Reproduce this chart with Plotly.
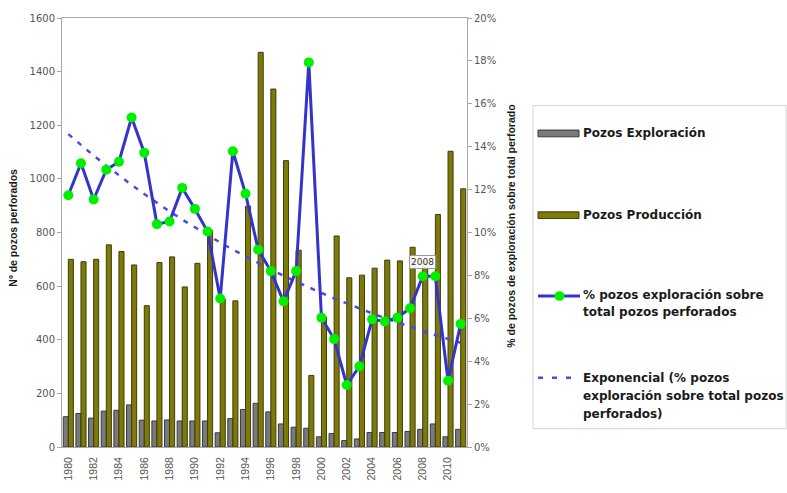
import numpy as np
import plotly.graph_objects as go

# --- data -------------------------------------------------------------
years = list(range(1980, 2012))

pozos_exploracion = [113, 125, 108, 134, 137, 157, 100, 97, 101, 97, 97, 97, 53, 106, 140, 163,
                     131, 86, 74, 70, 38, 50, 24, 30, 54, 54, 54, 58, 66, 86, 38, 66]

pozos_produccion = [700, 691, 700, 754, 729, 679, 527, 688, 709, 597, 685, 808, 552, 545, 898, 1472,
                    1335, 1068, 734, 267, 485, 787, 631, 641, 667, 697, 694, 745, 690, 867, 1103, 963]

pct_exploracion = [11.74, 13.23, 11.54, 12.93, 13.30, 15.36, 13.72, 10.39, 10.51, 12.08, 11.10, 10.05,
                   6.92, 13.79, 11.81, 9.20, 8.20, 6.79, 8.20, 17.93, 6.03, 5.03, 2.89, 3.76,
                   5.95, 5.85, 6.03, 6.47, 7.96, 7.96, 3.09, 5.74]

year_ticks = list(range(1980, 2011, 2))
left_ticks = list(range(0, 1601, 200))
right_ticks = list(range(0, 21, 2))
labelled_year = 2008

# exponential trend line (least squares on log values)
t = np.arange(len(years))
b, a = np.polyfit(t, np.log(pct_exploracion), 1)
trend = np.exp(a + b * t)

# --- styles -----------------------------------------------------------
GRAY_FILL, GRAY_EDGE = "#7a7a7a", "#3a3a3a"
OLIVE_FILL, OLIVE_EDGE = "#7d7a05", "#3e3c12"
BLUE = "#3434cc"
LIME = "#00f000"
AXIS = "#a8a8a8"
TICK_TXT = "#555555"

fig = go.Figure()
fig.add_trace(go.Bar(x=years, y=pozos_exploracion, name="Pozos Exploración",
                     marker=dict(color=GRAY_FILL, line=dict(color=GRAY_EDGE, width=1))))
fig.add_trace(go.Bar(x=years, y=pozos_produccion, name="Pozos Producción",
                     marker=dict(color=OLIVE_FILL, line=dict(color=OLIVE_EDGE, width=1))))
fig.add_trace(go.Scatter(x=years, y=trend, yaxis="y2", mode="lines",
                         name="Exponencial (% pozos exploración sobre total pozos perforados)",
                         line=dict(color="#4a4ae0", width=2.5, dash="5px,7px")))
fig.add_trace(go.Scatter(x=years, y=pct_exploracion, yaxis="y2", mode="lines+markers",
                         name="% pozos exploración sobre total pozos perforados",
                         line=dict(color=BLUE, width=3),
                         marker=dict(color=LIME, size=10)))

# --- plot frame ---------------------------------------------------------
PL, PR, PT, PB = 62, 467, 13, 459
W, H = 787, 493


def fx(px):
    return (px - PL) / (PR - PL)


def fy(py):
    return (PB - py) / (PB - PT)


fig.update_layout(
    width=W, height=H,
    margin=dict(l=PL, r=W - PR, t=PT, b=H - PB, pad=0),
    paper_bgcolor="white", plot_bgcolor="white",
    barmode="group", bargap=0.2, bargroupgap=0,
    showlegend=False,
    font=dict(family="Liberation Sans, Arial", color="#222"),
    xaxis=dict(range=[1979.5, 2011.5], tickvals=year_ticks, ticktext=[str(y) for y in year_ticks],
               tickangle=-90, ticks="", ticklabelstandoff=5,
               tickfont=dict(family="Liberation Sans, Arial", size=10.5, color=TICK_TXT),
               showline=True, linecolor=AXIS, linewidth=1, mirror=True,
               showgrid=False, zeroline=False),
    yaxis=dict(range=[0, 1600], tickvals=left_ticks, ticks="outside", ticklen=4, tickcolor=AXIS,
               tickfont=dict(family="DejaVu Sans", size=10, color=TICK_TXT),
               showline=True, linecolor=AXIS, linewidth=1,
               showgrid=False, zeroline=False),
    yaxis2=dict(range=[0, 20], tickvals=right_ticks, ticktext=[f"{v}%" for v in right_ticks],
                overlaying="y", side="right",
                ticks="outside", ticklen=4, tickcolor=AXIS,
                tickfont=dict(family="DejaVu Sans", size=10, color=TICK_TXT),
                showline=True, linecolor=AXIS, linewidth=1,
                showgrid=False, zeroline=False),
)

# axis titles
TITLE_FONT = dict(family="Liberation Sans, Arial", size=10.5, color="#1a1a1a")
fig.add_annotation(x=fx(13), y=fy(231), xref="paper", yref="paper", showarrow=False,
                   xanchor="center", yanchor="middle",
                   text="<b>Nº de pozos perforados</b>", textangle=-90, font=TITLE_FONT)
fig.add_annotation(x=fx(511), y=fy(230), xref="paper", yref="paper", showarrow=False,
                   xanchor="center", yanchor="middle",
                   text="<b>% de pozos de exploración sobre total perforado</b>", textangle=-90,
                   font=TITLE_FONT)

# data label on one point of the percentage series
idx = years.index(labelled_year)
fig.add_annotation(x=labelled_year, y=pct_exploracion[idx], xref="x", yref="y2", yshift=14,
                   showarrow=False, text=str(labelled_year),
                   font=dict(family="DejaVu Sans", size=9, color="#333"),
                   bgcolor="rgba(255,255,255,0.9)", bordercolor="#9a9a9a", borderwidth=1, borderpad=1)

# --- legend panel -------------------------------------------------------
LEG_FONT = dict(family="DejaVu Sans", size=12, color="#1a1a1a")
shapes = [
    dict(type="rect", xref="paper", yref="paper", x0=fx(533), x1=fx(786), y0=fy(104), y1=fy(440),
         line=dict(color="#d4d4d4", width=1), fillcolor="rgba(0,0,0,0)"),
    dict(type="rect", xref="paper", yref="paper", x0=fx(538), x1=fx(579), y0=fy(129.5), y1=fy(136.5),
         line=dict(color=GRAY_EDGE, width=1), fillcolor=GRAY_FILL),
    dict(type="rect", xref="paper", yref="paper", x0=fx(538), x1=fx(579), y0=fy(214.5), y1=fy(221.5),
         line=dict(color=OLIVE_EDGE, width=1), fillcolor=OLIVE_FILL),
    dict(type="line", xref="paper", yref="paper", x0=fx(538), x1=fx(580), y0=fy(302), y1=fy(302),
         line=dict(color=BLUE, width=3)),
    dict(type="circle", xref="paper", yref="paper", x0=fx(554.5), x1=fx(564.5), y0=fy(297), y1=fy(307),
         line=dict(width=0), fillcolor=LIME),
    dict(type="line", xref="paper", yref="paper", x0=fx(538), x1=fx(574), y0=fy(387), y1=fy(387),
         line=dict(color="#4a4ae0", width=2.5, dash="5px,9px")),
]
fig.update_layout(shapes=shapes)

legend_lines = [
    ("Pozos Exploración", 133),
    ("Pozos Producción", 218),
    ("% pozos exploración sobre", 301),
    ("total pozos perforados", 319),
    ("Exponencial (% pozos", 387),
    ("exploración sobre total pozos", 406),
    ("perforados)", 425),
]
for txt, ypix in legend_lines:
    fig.add_annotation(x=fx(581), y=fy(ypix), xref="paper", yref="paper", showarrow=False,
                       xanchor="left", yanchor="middle", text=f"<b>{txt}</b>", font=LEG_FONT)

fig.write_html("out.html")
